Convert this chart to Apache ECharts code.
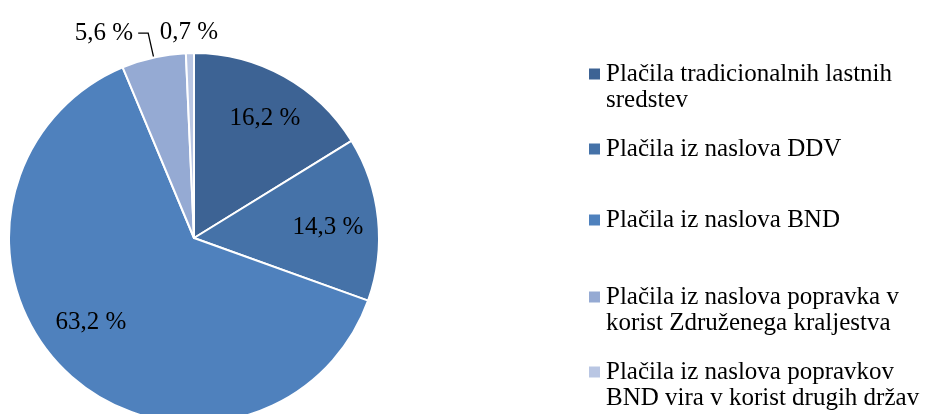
<!DOCTYPE html>
<html lang="sl">
<head>
	<meta charset="UTF-8">
	<title>Plačila</title>
	<style>
		*{margin: 0; padding: 0; box-sizing: border-box;}
		body{background: #fff;}
		#view{width: 931px; height: 414px;}
	</style>
</head>
<body>
	<div id="view"></div>
	<script src="https://cdn.jsdelivr.net/npm/echarts@6/dist/echarts.min.js"></script>
	<script>
	const names = [
		'Plačila tradicionalnih lastnih\nsredstev',
		'Plačila iz naslova DDV',
		'Plačila iz naslova BND',
		'Plačila iz naslova popravka v\nkorist Združenega kraljestva',
		'Plačila iz naslova popravkov\nBND vira v korist drugih držav'
	];
	const shares = [16.2, 14.3, 63.2, 5.6, 0.7];
	const colors = ['#3D6394', '#4572A8', '#4F81BD', '#95AAD3', '#B9C6E3'];
	// label centres (Excel "best fit"), index 3 uses the leader line
	const labelPos = [[265, 118], [328, 227], [91, 322], null, [189, 32]];
	const legendTops = [74, 149, 220, 297, 372];

	const font = 'Liberation Serif';
	const fmt = v => v.toFixed(1).replace('.', ',') + ' %';

	const legends = names.map(function (n, i) {
		const twoLines = n.indexOf('\n') >= 0;
		return {
			left: 587,
			top: legendTops[i] - (twoLines ? 39 : 13),
			padding: 0,
			orient: 'vertical',
			data: [n],
			icon: 'rect',
			itemWidth: 13,
			itemHeight: 13,
			itemGap: 0,
			selectedMode: false,
			// empty first line keeps the marker level with the first text line
			formatter: twoLines ? (s => '\n' + s) : null,
			textStyle: {fontFamily: font, fontSize: 25, color: '#000', lineHeight: 26}
		};
	});

	const option = {
		animation: false,
		color: colors,
		legend: legends,
		series: [{
			type: 'pie',
			center: [194, 238],
			radius: 185,
			startAngle: 90,
			clockwise: true,
			avoidLabelOverlap: false,
			itemStyle: {borderColor: '#fff', borderWidth: 2},
			label: {
				show: true,
				position: 'outside',
				fontFamily: font, fontSize: 25, color: '#000',
				formatter: p => fmt(p.value)
			},
			labelLine: {show: true, length: 25, length2: 10, lineStyle: {color: '#000', width: 1.3}},
			emphasis: {disabled: true},
			labelLayout: function (p) {
				const pos = labelPos[p.dataIndex];
				if (!pos) return {};
				return {x: pos[0], y: pos[1], align: 'center', verticalAlign: 'middle'};
			},
			data: names.map((n, i) => ({
				name: n,
				value: shares[i],
				labelLine: {show: i === 3}
			}))
		}]
	};

	var myChart = echarts.init(document.getElementById('view'));
	myChart.setOption(option);
	</script>
</body>
</html>
